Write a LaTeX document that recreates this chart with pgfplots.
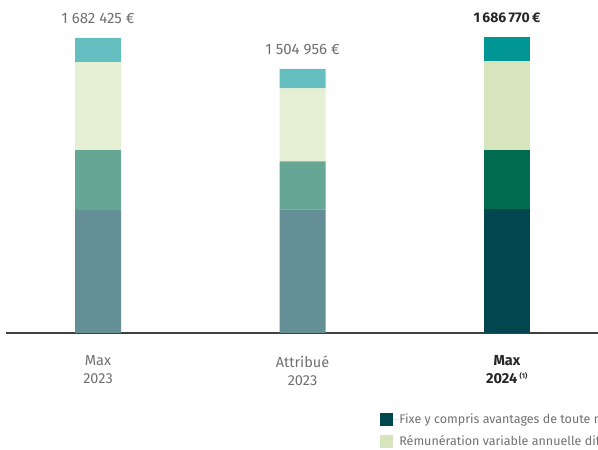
\documentclass[border=0pt]{standalone}
\usepackage{pgfplots}
\pgfplotsset{compat=1.18}
\usepackage{fontspec}
\setmainfont{Fira Sans}

\definecolor{fixF}{HTML}{648F96}
\definecolor{midF}{HTML}{66A694}
\definecolor{ligF}{HTML}{E5EFD4}
\definecolor{topF}{HTML}{65BFC0}
\definecolor{fix}{HTML}{02474F}
\definecolor{mid}{HTML}{006B4E}
\definecolor{lig}{HTML}{D7E5BC}
\definecolor{top}{HTML}{009696}
\definecolor{txt}{HTML}{707070}
\definecolor{base}{HTML}{404040}

\begin{document}
\begin{tikzpicture}
\useasboundingbox (0pt,0pt) rectangle (598pt,450pt);
\clip (0pt,0pt) rectangle (598pt,450pt);
\begin{axis}[
    at={(6pt,117pt)}, anchor=south west,
    scale only axis, width=592pt, height=300pt,
    xmin=-0.45, xmax=2.445, ymin=0, ymax=1710000,
    clip=false,
    ybar stacked, bar width=46pt,
    axis x line*=bottom, axis y line=none,
    x axis line style={-, draw=base, line width=1.8pt},
    xtick={0,1,2}, major tick length=0pt, ytick=\empty,
    xticklabels={Max\\2023, Attribué\\2023,
      {\textcolor{black!85}{\textbf{Max}}\\\textcolor{black!85}{\textbf{2024}\,\textsuperscript{\scriptsize\bfseries(1)}}}},
    xticklabel style={align=center, text=txt,
      font=\fontsize{14.5}{18}\selectfont, yshift=-19pt},
    legend columns=2,
    legend cell align=left,
    legend style={at={(0.632,-0.263)}, anchor=north west,
      draw=none, fill=none, inner sep=0pt,
      font=\fontsize{12.5}{14}\selectfont, text=txt,
      row sep=6pt,
      /tikz/every even column/.append style={column sep=20pt}},
    legend image code/.code={\fill[#1] (0pt,-6.5pt) rectangle (13pt,6.5pt);
      \path (0pt,0pt) -- (17pt,0pt);},
    every axis plot/.append style={draw=none},
]
% fixe
\addplot[fill=fixF, forget plot] coordinates {(0,700000) (1,705000) (2,0)};
\addplot[fill=fix] coordinates {(0,0) (1,0) (2,706000)};
\addlegendentry{Fixe y compris avantages de toute nature}
% variable pluriannuelle
\addplot[fill=midF, forget plot] coordinates {(0,342000) (1,273600) (2,0)};
\addplot[fill=mid] coordinates {(0,0) (1,0) (2,336000)};
\addlegendentry{Rémunération variable pluriannuelle}
% variable annuelle differee
\addplot[fill=ligF, forget plot] coordinates {(0,502000) (1,416100) (2,0)};
\addplot[fill=lig] coordinates {(0,0) (1,0) (2,508000)};
\addlegendentry{Rémunération variable annuelle différée}
% top
\addplot[fill=topF, forget plot] coordinates {(0,138425) (1,110256) (2,0)};
\addplot[fill=top] coordinates {(0,0) (1,0) (2,136770)};
\addlegendentry{Rémunération long terme}

\node[anchor=south, inner sep=0pt, yshift=14pt, text=txt, font=\fontsize{15}{17}\selectfont]
  at (axis cs:0,1682425) {1 682 425 €};
\node[anchor=south, inner sep=0pt, yshift=14pt, text=txt, font=\fontsize{15}{17}\selectfont]
  at (axis cs:1,1504956) {1 504 956 €};
\node[anchor=south, inner sep=0pt, yshift=14pt, text=black!85, font=\fontsize{14}{17}\selectfont\bfseries]
  at (axis cs:2,1686770) {1\,686\,770\,€};
\end{axis}
\end{tikzpicture}
\end{document}
